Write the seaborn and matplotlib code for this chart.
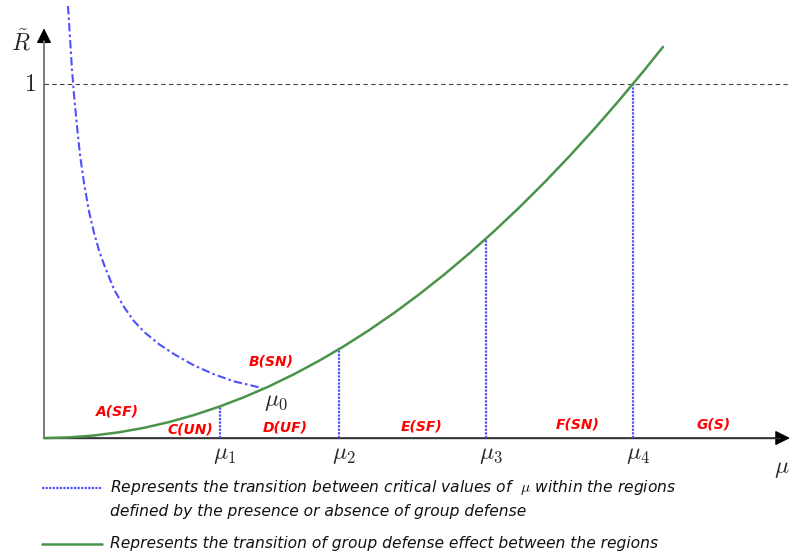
import numpy as np
import pandas as pd
import matplotlib
matplotlib.use("Agg")
import matplotlib.pyplot as plt
import seaborn as sns

# ---- data ----
green_mu = [0, 0.25, 0.5, 0.75, 1.0, 1.25, 1.5, 1.75, 2.0, 2.25, 2.5, 2.75, 3.0, 3.25, 3.5,
            3.75, 4.0, 4.25, 4.5, 4.75, 5.0, 5.25, 5.5, 5.75, 6.0, 6.19]
green_R = [0, 0.0018, 0.0072, 0.0162, 0.0288, 0.045, 0.0649, 0.0883, 0.1153, 0.1459, 0.1802,
           0.218, 0.2594, 0.3045, 0.3531, 0.4054, 0.4612, 0.5207, 0.5837, 0.6504, 0.7207,
           0.7945, 0.872, 0.9531, 1.0378, 1.1045]

blue_mu = [0.24, 0.26, 0.28, 0.30, 0.33, 0.36, 0.40, 0.45, 0.50, 0.55, 0.60, 0.70, 0.80,
           0.90, 1.0, 1.15, 1.3, 1.5, 1.7, 1.9, 2.05, 2.18]
blue_R = [1.22, 1.13, 1.04, 0.97, 0.88, 0.80, 0.72, 0.64, 0.58, 0.53, 0.49, 0.42, 0.37,
          0.33, 0.30, 0.265, 0.237, 0.205, 0.180, 0.160, 0.150, 0.141]

crit_labels = ["$\\mu_1$", "$\\mu_2$", "$\\mu_3$", "$\\mu_4$"]
crit_mu = [1.76, 2.95, 4.42, 5.89]
crit_R = [0.0893, 0.251, 0.563, 1.0]

region_labels = ["A(SF)", "B(SN)", "C(UN)", "D(UF)", "E(SF)", "F(SN)", "G(S)"]
region_mu = [0.73, 2.27, 1.46, 2.41, 3.78, 5.34, 6.70]
region_R = [0.075, 0.216, 0.025, 0.030, 0.033, 0.037, 0.037]

legend_lines = [
    "Represents the transition between critical values of  $\\mu$ within the regions",
    "defined by the presence or absence of group defense",
    "Represents the transition of group defense effect between the regions",
]

sns.set_style("white")
plt.rcParams["mathtext.fontset"] = "cm"

fig = plt.figure(figsize=(7.9, 5.57), dpi=100)
ax = fig.add_axes([0, 0, 1, 1])
ax.set_xlim(-0.44, 7.46)
ax.set_ylim(-0.336, 1.237)
ax.axis("off")

blue = "#4f4fff"
green = "#4a944a"

# axes arrows
ax.annotate("", xy=(7.46, 0), xytext=(0, 0),
            arrowprops=dict(arrowstyle="-|>,head_length=0.9,head_width=0.45", color="black",
                            lw=1.0, shrinkA=0, shrinkB=0), zorder=1)
ax.plot([0, 7.36], [0, 0], color="#333333", lw=1.0, zorder=1)
ax.annotate("", xy=(0, 1.157), xytext=(0, 0),
            arrowprops=dict(arrowstyle="-|>,head_length=0.9,head_width=0.45", color="black",
                            lw=1.0, shrinkA=0, shrinkB=0), zorder=1)
ax.plot([0, 0], [0, 1.12], color="#888888", lw=1.2, zorder=2)

# dashed line at R=1
ax.axhline(1.0, xmin=(0 + 0.44) / 7.9, xmax=1.0, color="#444444", lw=0.8, ls=(0, (4, 3)))

# curves
dfg = pd.DataFrame({"mu": green_mu, "R": green_R})
sns.lineplot(data=dfg, x="mu", y="R", ax=ax, color=green, lw=1.8, sort=False, zorder=4)
dfb = pd.DataFrame({"mu": blue_mu, "R": blue_R})
sns.lineplot(data=dfb, x="mu", y="R", ax=ax, color=blue, lw=1.5, sort=False,
             linestyle=(0, (4, 1.5, 1.2, 1.5)), zorder=3)

# vertical dotted lines
for m, r, lab in zip(crit_mu, crit_R, crit_labels):
    ax.plot([m, m], [0, r], color=blue, lw=1.6, ls=(0, (1, 0.6)), zorder=3)
    ax.text(m + 0.05, -0.045, lab, fontsize=17, ha="center", va="center")

ax.text(2.32, 0.105, "$\\mu_0$", fontsize=17, ha="center", va="center")

for lab, m, r in zip(region_labels, region_mu, region_R):
    ax.text(m, r, lab, color="red", fontsize=10, fontweight="bold", fontstyle="italic",
            ha="center", va="center")

# axis labels
ax.text(-0.23, 1.117, "$\\tilde{R}$", fontsize=17, ha="center", va="center")
ax.text(-0.14, 1.0, "$1$", fontsize=17, ha="center", va="center")
ax.text(7.455, -0.085, "$\\mu$", fontsize=17, ha="right", va="center")

# legend
ax.plot([-0.02, 0.58], [-0.141, -0.141], color=blue, lw=1.6, ls=(0, (1, 0.6)))
ax.text(0.66, -0.141, legend_lines[0], fontsize=11.2, fontstyle="italic",
        ha="left", va="center", color="#111111")
ax.text(0.66, -0.207, legend_lines[1], fontsize=11.2, fontstyle="italic",
        ha="left", va="center", color="#111111")
ax.plot([-0.02, 0.58], [-0.299, -0.299], color=green, lw=1.8)
ax.text(0.66, -0.299, legend_lines[2], fontsize=11.2, fontstyle="italic",
        ha="left", va="center", color="#111111")

fig.savefig("out.png", dpi=100)
